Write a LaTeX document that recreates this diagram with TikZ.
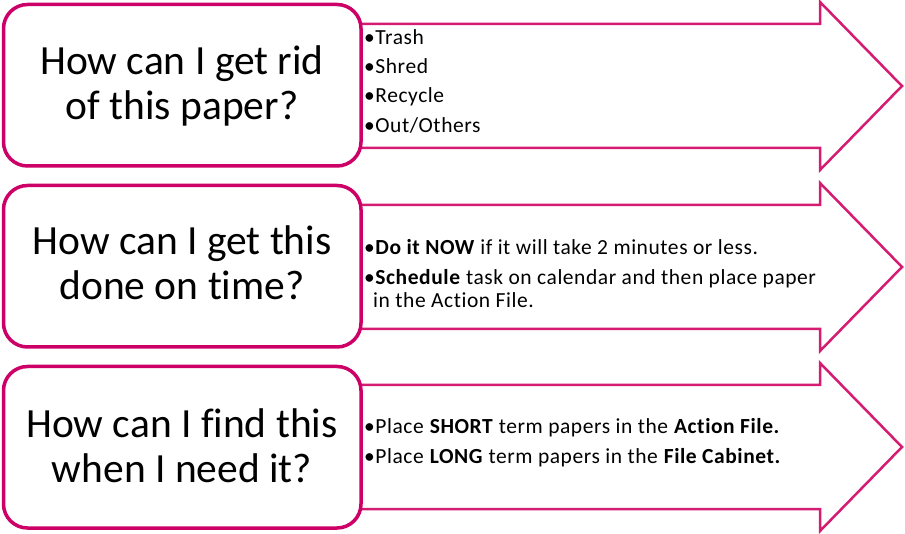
\documentclass[tikz,border=0pt]{standalone}
\usepackage{fontspec}
\setmainfont{Carlito}[Ligatures=NoCommon]
\newfontfamily\bulletfont{Carlito}[Ligatures=NoCommon, LetterSpace=2.6]
\definecolor{rectmag}{HTML}{CC0066}
\definecolor{arrmag}{HTML}{D41C72}
\begin{document}
\begin{tikzpicture}[x=1pt,y=-1pt,
  qbox/.style={draw=rectmag, line width=3.5pt, rounded corners=24pt, fill=white},
  arrowshape/.style={draw=arrmag, line width=2.5pt, fill=white, line join=miter},
  qtext/.style={font=\fontsize{41.5}{44.5}\selectfont, anchor=base, inner sep=0pt},
  btext/.style={font=\bulletfont\fontsize{21.5}{24}\selectfont, anchor=base west, inner sep=0pt}]
\useasboundingbox (0,0) rectangle (905,534);
% arrows
\foreach \c in {86,267,447}{
  \draw[arrowshape] (358,\c-62) -- (820,\c-62) -- (820,\c-84) -- (902,\c) -- (820,\c+84) -- (820,\c+62) -- (358,\c+62) -- cycle;
}
% question boxes
\draw[qbox] (3.5,4.5) rectangle (361,166);
\draw[qbox] (3.5,185.5) rectangle (361,347);
\draw[qbox] (3.5,366.5) rectangle (361,528);
% question texts
\node[qtext] (q1a) at (182,75) {How can I get rid};
\node[qtext] (q1b) at (182,119.5) {of this paper?};
\node[qtext] (q2a) at (182,255) {How can I get this};
\node[qtext] (q2b) at (182,300) {done on time?};
\node[qtext] (q3a) at (182,437) {How can I find this};
\node[qtext] (q3b) at (182,482) {when I need it?};
% bullet texts
\node[btext] (b11) at (364,45) {•Trash};
\node[btext] (b12) at (364,74) {•Shred};
\node[btext] (b13) at (364,103) {•Recycle};
\node[btext] (b14) at (364,133) {•Out/Others};
\node[btext] (b21) at (364,255) {•\textbf{Do it NOW} if it will take 2 minutes or less.};
\node[btext] (b22) at (364,285) {•\textbf{Schedule} task on calendar and then place paper};
\node[btext] (b23) at (373,308) {in the Action File.};
\node[btext] (b31) at (364,434) {•Place \textbf{SHORT} term papers in the \textbf{Action File.}};
\node[btext] (b32) at (364,464) {•Place \textbf{LONG} term papers in the \textbf{File Cabinet.}};
\end{tikzpicture}
\end{document}
